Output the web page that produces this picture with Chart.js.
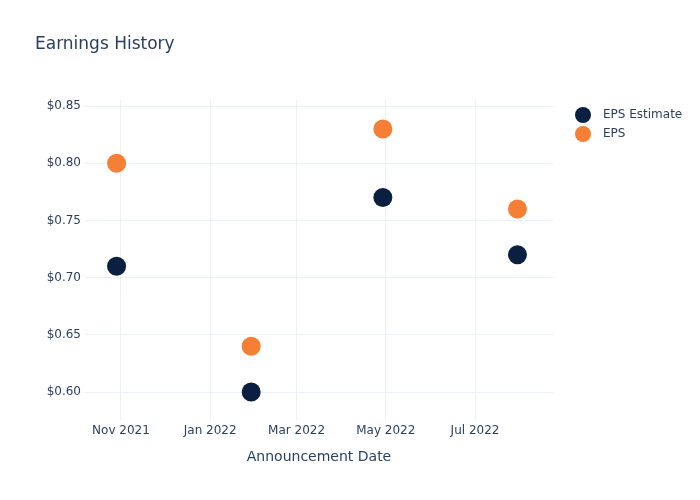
<!DOCTYPE html>
<html>
<head>
<meta charset="utf-8">
<script src="https://cdn.jsdelivr.net/npm/chart.js@4/dist/chart.umd.min.js"></script>
<style>
html,body{margin:0;padding:0;background:#fff;}
#wrap{width:700px;height:500px;}
</style>
</head>
<body>
<div id="wrap"><canvas id="c" width="700" height="500"></canvas></div>
<script>
const chartTitle = 'Earnings History';
const xAxisTitle = 'Announcement Date';
const announceDates = ['2021-10-29', '2022-01-29', '2022-04-29', '2022-07-30'];
const epsEstimate = [0.71, 0.60, 0.77, 0.72];
const epsActual = [0.80, 0.64, 0.83, 0.76];
const seriesNames = ['EPS Estimate', 'EPS'];
const seriesColors = ['#0b1f41', '#f67f36'];
const xTickDates = ['2021-11-01', '2022-01-01', '2022-03-01', '2022-05-01', '2022-07-01'];
const xTickLabels = ['Nov 2021', 'Jan 2022', 'Mar 2022', 'May 2022', 'Jul 2022'];
const yTicks = [0.60, 0.65, 0.70, 0.75, 0.80, 0.85];
const xRange = ['2021-10-07T10:00:00Z', '2022-08-23T07:00:00Z'];
const yRange = [0.5756, 0.8553];

const toMs = d => new Date(d.length > 10 ? d : d + 'T00:00:00Z').getTime();
const FONT = '"DejaVu Sans", Verdana, sans-serif';
const TXT = '#2a3f5f';
const GRID = '#ebf0f8';

const mk = vals => announceDates.map((d, i) => ({x: toMs(d), y: vals[i]}));

const overlay = {
  id: 'overlay',
  afterDraw(chart) {
    const ctx = chart.ctx;
    ctx.save();
    ctx.fillStyle = TXT;
    ctx.font = '17px ' + FONT;
    ctx.textBaseline = 'middle';
    ctx.textAlign = 'left';
    ctx.fillText(chartTitle, 35, 45);
    ctx.font = '12px ' + FONT;
    seriesNames.forEach((n, i) => {
      const y = 115 + i * 19;
      ctx.beginPath();
      ctx.fillStyle = seriesColors[i];
      ctx.arc(583, y, 8, 0, Math.PI * 2);
      ctx.fill();
      ctx.fillStyle = TXT;
      ctx.fillText(n, 603, y);
    });
    ctx.restore();
  }
};

new Chart(document.getElementById('c'), {
  type: 'scatter',
  data: {
    datasets: [
      {label: seriesNames[0], data: mk(epsEstimate), backgroundColor: seriesColors[0], borderColor: seriesColors[0], pointRadius: 9.5, pointHoverRadius: 9.5, borderWidth: 0},
      {label: seriesNames[1], data: mk(epsActual), backgroundColor: seriesColors[1], borderColor: seriesColors[1], pointRadius: 9.5, pointHoverRadius: 9.5, borderWidth: 0}
    ]
  },
  options: {
    responsive: false,
    animation: false,
    devicePixelRatio: 1,
    layout: {padding: {top: 100, right: 147, left: 0, bottom: 0}},
    plugins: {legend: {display: false}, title: {display: false}, tooltip: {enabled: false}},
    scales: {
      x: {
        type: 'linear',
        min: toMs(xRange[0]),
        max: toMs(xRange[1]),
        afterBuildTicks(scale) { scale.ticks = xTickDates.map(d => ({value: toMs(d)})); },
        afterFit(scale) { scale.height = 80; },
        ticks: {
          autoSkip: false, maxRotation: 0, padding: 4,
          color: TXT, font: {family: FONT, size: 12},
          callback(v) { const i = xTickDates.findIndex(d => toMs(d) === v); return i >= 0 ? xTickLabels[i] : ''; }
        },
        grid: {color: GRID, lineWidth: 1, drawTicks: false},
        border: {display: false},
        title: {display: true, text: xAxisTitle, color: TXT, font: {family: FONT, size: 14}, padding: {top: 0, bottom: 34}}
      },
      y: {
        min: yRange[0],
        max: yRange[1],
        afterBuildTicks(scale) { scale.ticks = yTicks.map(v => ({value: v})); },
        afterFit(scale) { scale.width = 85; },
        ticks: {
          autoSkip: false, padding: 4,
          color: TXT, font: {family: FONT, size: 12},
          callback(v) { return '$' + Number(v).toFixed(2); }
        },
        grid: {color: GRID, lineWidth: 1, drawTicks: false},
        border: {display: false}
      }
    }
  },
  plugins: [overlay]
});
</script>
</body>
</html>
